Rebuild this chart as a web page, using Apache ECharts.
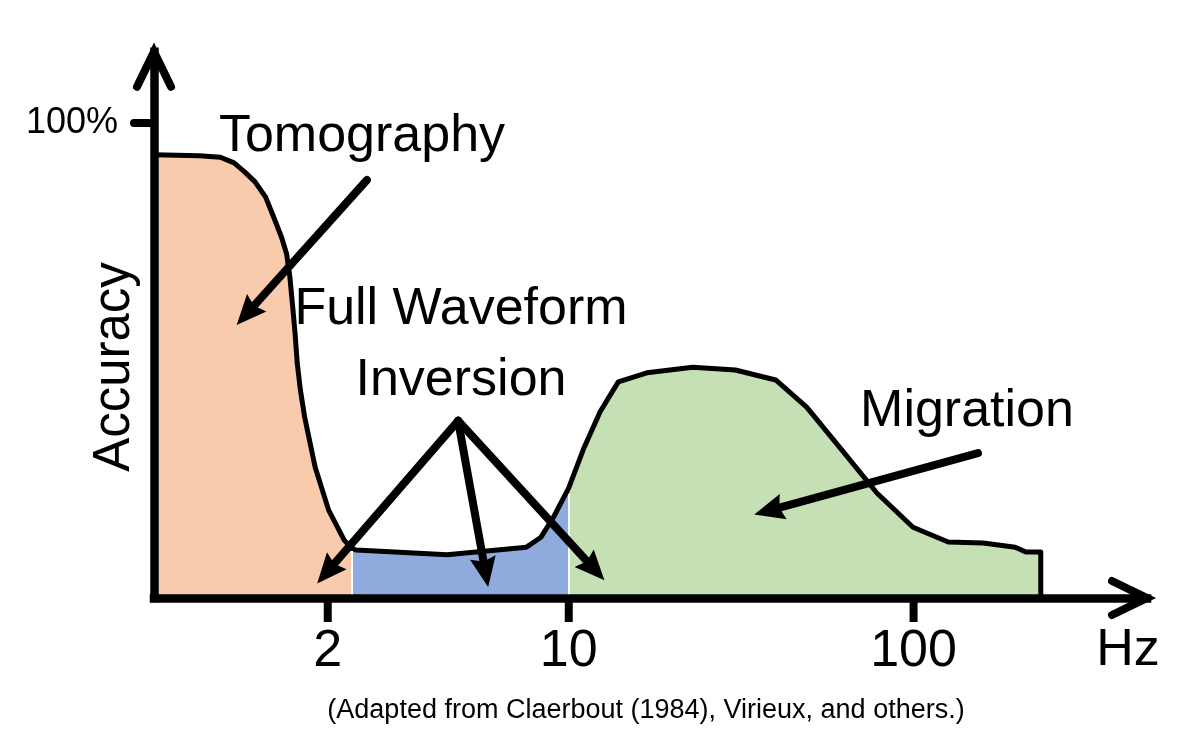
<!DOCTYPE html>
<html>
<head>
<meta charset="utf-8">
<script src="https://cdn.jsdelivr.net/npm/echarts@6/dist/echarts.min.js"></script>
<style>
  html, body { margin: 0; padding: 0; background: #fff; }
  #chart { width: 1195px; height: 745px; }
</style>
</head>
<body>
<div id="chart"></div>
<script>
// ---------------- data ----------------
// frequency (Hz) and accuracy (%) along the curve
const freqHz = [0.6268, 0.8482, 0.9764, 1.070, 1.148, 1.231, 1.321, 1.397, 1.468, 1.520,
  1.553, 1.586, 1.609, 1.631, 1.666, 1.714, 1.838, 2.012, 2.232, 2.343,
  2.415, 4.438, 7.538, 8.306, 9.046, 10, 11.01, 12.33, 13.92, 16.86,
  22.89, 30.41, 39.83, 48.96, 61.90, 78.26, 99.6, 126.0, 159.3, 197.2,
  211.7, 233.8, 233.8];
const accuracyPct = [93.3, 93.1, 92.8, 91.6, 89.7, 87.6, 84.4, 80.0, 76.0, 72.4,
  67.6, 60.6, 55.4, 49.5, 43.8, 38.1, 27.6, 18.5, 12.2, 10.5,
  10.1, 9.1, 10.7, 12.8, 17.1, 23.2, 31.2, 39.2, 45.5, 47.4,
  48.6, 48.0, 45.9, 40.2, 31.2, 22.1, 14.9, 11.8, 11.6, 10.7,
  9.7, 9.7, 0];
// band edges (Hz): Tomography | Full Waveform Inversion | Migration
const bandEdgesHz = [2.343, 10];
const bandNames = ['Tomography', 'Full Waveform Inversion', 'Migration'];
const bandColors = ['#F8CBAD', '#8FAADC', '#C5E0B4'];
// axis extent and ticks
const xMinHz = 0.6268;
const xMaxHz = 475.3;
const yMaxPct = 115;
const xTickValues = [2, 10, 100];
const yTickValues = [100];
// annotation arrows (Hz, %): shaft start and shaft end
const arrowFromHz = [2.598, 4.776, 4.776, 4.776, 153.7];
const arrowFromAcc = [88.0, 37.3, 37.3, 37.3, 30.5];
const arrowToHz = [1.164, 1.990, 5.735, 11.86, 38.01];
const arrowToAcc = [59.8, 5.45, 5.41, 6.04, 18.4];
// texts
const labelTexts = ['Tomography', 'Full Waveform', 'Inversion', 'Migration'];
const yTitle = 'Accuracy';
const xUnit = 'Hz';
const caption = '(Adapted from Claerbout (1984), Virieux, and others.)';

// ---------------- build ----------------
const FONT = '"Liberation Sans", Arial, sans-serif';
const pts = freqHz.map((f, i) => [f, accuracyPct[i]]);
const bandPts = [
  pts.filter(p => p[0] <= bandEdgesHz[0]),
  pts.filter(p => p[0] >= bandEdgesHz[0] && p[0] <= bandEdgesHz[1]),
  pts.filter(p => p[0] >= bandEdgesHz[1])
];
const CHEVRON = 'path://M0,-9.2 L20.6,33.25 A4,4 0 0 1 13.4,36.75 L0,9.2 L-13.4,36.75 A4,4 0 0 1 -20.6,33.25 Z';
const ARROWHEAD = 'path://M0,0 M30,30 M15,0 L28,30 L15,26 L2,30 Z';
const axisLineCfg = {
  show: true, onZero: false,
  symbol: ['none', CHEVRON], symbolSize: [42, 48.2], symbolOffset: [0, -14.9],
  lineStyle: { color: '#000', width: 8.5, cap: 'square' }
};

const series = bandPts.map((d, i) => {
  const s = {
    name: bandNames[i], type: 'line', data: d, showSymbol: false, clip: false,
    lineStyle: { width: 0 }, areaStyle: { color: bandColors[i], opacity: 1 }, z: 2,
    silent: true
  };
  if (i === 1) {
    s.markLine = {
      silent: true, symbol: ['none', 'none'], label: { show: false },
      lineStyle: { color: '#fff', width: 2, type: 'solid' },
      data: [
        [{ coord: [bandEdgesHz[0], 0] }, { coord: [bandEdgesHz[0], 9.9] }],
        [{ coord: [bandEdgesHz[1], 0] }, { coord: [bandEdgesHz[1], 21.9] }]
      ]
    };
  }
  return s;
});
series.push({
  name: 'curve', type: 'line', data: pts, showSymbol: false, clip: false, z: 3, silent: true,
  lineStyle: { color: '#000', width: 5, join: 'round', cap: 'round' }
});
series.push({
  name: 'arrows', type: 'line', data: [], z: 4, silent: true,
  markLine: {
    silent: true, symbol: ['none', ARROWHEAD], symbolSize: 30,
    label: { show: false },
    itemStyle: { color: '#000' },
    lineStyle: { color: '#000', width: 8, type: 'solid', cap: 'round' },
    data: arrowFromHz.map((f, i) => [
      { coord: [f, arrowFromAcc[i]] },
      { coord: [arrowToHz[i], arrowToAcc[i]] }
    ])
  }
});
series.push({
  name: 'xticks', type: 'scatter', data: xTickValues.map(v => [v, 0]), clip: false, z: 10, silent: true,
  symbol: 'rect', symbolSize: [8, 24], symbolOffset: [0, 12],
  itemStyle: { color: '#000', opacity: 1 },
  label: {
    show: true, position: 'bottom', distance: 4,
    formatter: p => String(p.value[0]),
    fontSize: 52, fontFamily: FONT, color: '#000', opacity: 1
  }
});

function txt(text, x, y, size, rot) {
  return {
    type: 'text', x: x, y: y, rotation: rot || 0, silent: true, z: 20,
    style: {
      text: text, fill: '#000', fontSize: size, fontFamily: FONT,
      align: 'center', verticalAlign: 'middle',
      textAlign: 'center', textVerticalAlign: 'middle'
    }
  };
}

const option = {
  animation: false,
  backgroundColor: '#fff',
  grid: { left: 154, right: 48, top: 51.75, bottom: 147, containLabel: false, outerBoundsMode: 'none' },
  xAxis: {
    type: 'log', logBase: 10, min: xMinHz, max: xMaxHz, z: 10,
    axisLine: axisLineCfg,
    axisTick: { show: false }, axisLabel: { show: false },
    splitLine: { show: false }, minorTick: { show: false }, minorSplitLine: { show: false }
  },
  yAxis: {
    type: 'value', min: 0, max: yMaxPct, z: 10,
    axisLine: axisLineCfg,
    axisTick: { show: true, customValues: yTickValues, length: 20, lineStyle: { color: '#000', width: 8, cap: 'round' } },
    axisLabel: { show: true, customValues: yTickValues, formatter: '{value}%', fontSize: 36, fontFamily: FONT, color: '#000', margin: 36 },
    splitLine: { show: false }
  },
  graphic: [
    txt(labelTexts[0], 362, 137, 52),
    txt(labelTexts[1], 461, 310, 52),
    txt(labelTexts[2], 461, 381, 52),
    txt(labelTexts[3], 967, 412, 52),
    txt(yTitle, 115, 367, 51, Math.PI / 2),
    txt(xUnit, 1128, 651, 52),
    txt(caption, 646, 711, 27)
  ],
  series: series
};

const chart = echarts.init(document.getElementById('chart'), null, { renderer: 'canvas' });
chart.setOption(option);
</script>
</body>
</html>
